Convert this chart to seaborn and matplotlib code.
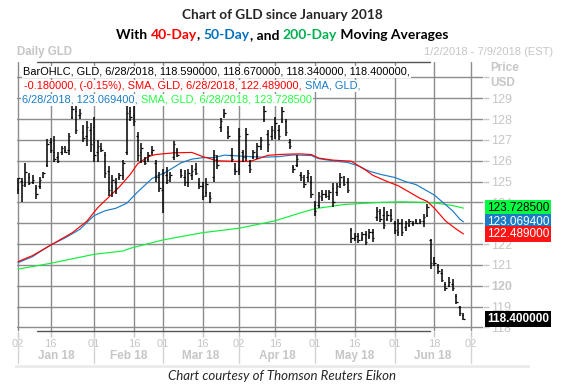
import pandas as pd
import seaborn as sns
import matplotlib.pyplot as plt
import matplotlib.transforms as mtransforms
from matplotlib.patches import Rectangle
from matplotlib.lines import Line2D

# Daily GLD bars, trading days 1/2/2018 .. 6/28/2018 (index 0..123)
opens = [124.66, 125.05, 124.90, 125.20, 125.00, 124.70, 124.80, 125.20, 125.80, 126.90,
         126.40, 126.20, 126.40, 126.50, 126.50, 128.10, 128.40, 128.20, 127.40, 127.20,
         127.50, 127.60, 126.40, 126.60, 126.30, 125.50, 124.80, 125.00, 125.20, 125.30,
         126.40, 128.40, 128.20, 127.20, 126.40, 126.00, 126.10, 126.40, 125.90, 125.20,
         124.60, 125.30, 125.20, 126.20, 126.50, 125.50, 125.20, 125.00, 125.30, 125.60,
         124.90, 124.80, 124.50, 124.30, 125.20, 126.10, 127.60, 128.20, 127.40, 126.30,
         125.60, 125.60, 126.40, 126.20, 125.80, 126.20, 126.30, 126.70, 128.00, 127.30,
         127.20, 127.40, 127.50, 127.90, 127.90, 126.90, 125.70, 125.80, 125.30, 125.10,
         125.20, 125.00, 123.90, 123.90, 124.20, 124.40, 124.30, 124.70, 124.50, 124.90,
         125.10, 125.00, 122.70, 122.30, 122.40, 122.30, 122.50, 122.40, 122.60, 123.30,
         123.50, 123.40, 123.20, 123.40, 123.00, 122.60, 123.00, 122.80, 122.90, 123.00,
         123.10, 123.00, 123.10, 123.40, 122.20, 121.20, 120.90, 120.60, 120.10, 120.00,
         120.10, 119.50, 119.00, 118.59]
highs = [125.18, 125.15, 125.87, 125.42, 125.30, 124.82, 125.23, 125.47, 127.03, 127.10,
         127.20, 126.40, 126.70, 126.70, 127.35, 128.65, 128.65, 128.50, 127.70, 127.90,
         127.80, 128.10, 127.00, 126.84, 126.44, 125.74, 125.30, 125.15, 125.42, 126.03,
         128.65, 128.60, 128.65, 127.40, 126.84, 126.20, 126.44, 126.70, 126.03, 125.47,
         125.60, 125.70, 125.47, 126.97, 126.60, 125.60, 125.55, 125.60, 125.80, 125.87,
         125.15, 124.98, 125.15, 124.50, 126.50, 126.27, 128.05, 128.50, 127.65, 126.60,
         125.87, 127.55, 126.50, 127.55, 126.03, 126.50, 126.84, 127.16, 128.70, 127.50,
         127.65, 128.10, 127.70, 128.60, 128.00, 127.06, 125.80, 126.30, 125.48, 125.30,
         125.57, 125.25, 124.05, 124.50, 124.60, 124.60, 124.60, 124.93, 124.93, 125.40,
         125.25, 125.17, 122.77, 122.53, 122.53, 122.60, 122.64, 122.72, 122.72, 123.76,
         123.68, 123.76, 123.60, 123.68, 123.12, 123.20, 123.20, 123.12, 123.20, 123.12,
         123.20, 123.20, 123.44, 123.92, 122.24, 121.36, 121.04, 120.80, 120.16, 120.40,
         120.32, 119.60, 119.04, 118.67]
lows = [124.39, 124.00, 124.74, 124.82, 124.87, 124.18, 124.66, 125.15, 125.70, 126.35,
        125.95, 125.87, 126.30, 126.35, 126.30, 128.00, 127.30, 128.00, 126.90, 126.70,
        126.40, 125.95, 125.95, 126.40, 125.15, 124.29, 124.26, 124.42, 125.06, 125.10,
        126.27, 127.90, 127.65, 126.00, 125.87, 125.80, 125.95, 126.27, 125.00, 124.50,
        123.50, 124.90, 125.00, 126.03, 126.20, 125.15, 124.80, 124.75, 125.06, 125.30,
        124.66, 124.10, 124.26, 123.95, 125.00, 125.60, 127.40, 128.05, 127.03, 125.95,
        125.30, 125.30, 125.95, 126.00, 125.40, 126.10, 126.10, 126.50, 127.85, 126.44,
        127.00, 127.05, 127.00, 127.80, 127.20, 126.58, 125.40, 125.70, 125.05, 124.70,
        125.00, 124.20, 123.33, 123.73, 124.05, 124.20, 124.13, 123.80, 124.30, 124.70,
        124.77, 124.45, 122.05, 122.13, 122.05, 122.13, 121.97, 122.24, 122.08, 123.12,
        123.04, 122.72, 123.12, 123.04, 122.48, 122.40, 122.40, 122.64, 122.80, 122.88,
        122.96, 122.96, 122.80, 123.28, 120.80, 120.96, 120.56, 120.16, 119.76, 119.92,
        119.76, 119.12, 118.56, 118.34]
closes = [125.15, 124.82, 125.46, 124.95, 125.10, 124.40, 125.10, 125.40, 126.80, 126.50,
          126.10, 126.00, 126.60, 126.40, 127.20, 128.50, 127.50, 128.30, 127.10, 127.60,
          126.80, 126.30, 126.70, 126.50, 125.40, 124.60, 125.10, 124.70, 125.30, 125.90,
          128.30, 128.10, 127.90, 126.30, 126.60, 125.90, 126.30, 126.50, 125.20, 124.70,
          125.40, 125.10, 125.30, 126.80, 126.30, 125.30, 125.00, 125.40, 125.50, 125.40,
          124.80, 124.30, 124.90, 124.20, 126.30, 125.80, 127.90, 128.30, 127.20, 126.10,
          125.50, 127.20, 126.20, 127.30, 125.60, 126.40, 126.70, 127.00, 128.40, 126.80,
          127.50, 127.80, 127.20, 128.40, 127.40, 126.70, 125.60, 126.10, 125.20, 124.90,
          125.40, 124.40, 123.60, 124.30, 124.40, 124.30, 124.50, 124.00, 124.80, 125.20,
          124.90, 124.60, 122.30, 122.40, 122.20, 122.50, 122.10, 122.60, 122.30, 123.60,
          123.20, 122.90, 123.40, 123.20, 122.70, 123.00, 122.60, 123.00, 123.10, 123.00,
          123.00, 123.10, 123.30, 123.80, 121.10, 121.10, 120.70, 120.30, 119.90, 120.20,
          119.90, 119.20, 118.70, 118.40]

# moving averages (trading-day index, value)
sma40_idx = [0, 4, 9, 12, 15, 19, 22, 25, 28, 31, 33, 36, 38, 43, 48, 51, 55, 60, 64, 66,
             69, 72, 75, 78, 81, 83, 87, 92, 96, 98, 102, 105, 108, 111, 113, 115, 118, 121, 123]
sma40_val = [121.16, 121.45, 121.95, 122.25, 122.55, 123.10, 123.75, 124.25, 124.75, 125.35,
             125.85, 126.20, 126.30, 126.38, 126.40, 126.20, 126.00, 125.97, 125.97, 126.08,
             126.26, 126.30, 126.32, 126.33, 126.30, 126.13, 126.03, 125.98, 125.55, 125.30,
             125.00, 124.80, 124.50, 124.20, 124.05, 123.72, 123.12, 122.72, 122.489]
sma50_idx = [0, 4, 9, 13, 17, 21, 24, 27, 30, 33, 37, 41, 45, 48, 51, 54, 57, 60, 64, 68,
             72, 76, 81, 83, 87, 91, 94, 97, 100, 104, 107, 110, 113, 115, 117, 120, 122, 123]
sma50_val = [121.11, 121.40, 121.96, 122.30, 122.70, 123.37, 123.60, 123.72, 123.96, 124.50,
             125.15, 125.47, 125.90, 126.08, 126.15, 126.15, 126.27, 126.24, 126.20, 126.17,
             126.20, 126.28, 126.25, 126.10, 126.00, 125.92, 125.75, 125.50, 125.35, 125.20,
             125.00, 124.85, 124.55, 124.35, 124.05, 123.60, 123.20, 123.0694]
sma200_idx = [0, 9, 21, 29, 31, 40, 51, 61, 71, 78, 82, 90, 97, 100, 106, 113, 117, 120, 123]
sma200_val = [120.80, 121.08, 121.51, 121.67, 121.80, 122.20, 122.55, 122.76, 123.12, 123.50,
              123.70, 123.90, 123.97, 124.00, 124.03, 124.00, 123.93, 123.85, 123.7285]

tick_idx = [0, 9, 21, 32, 40, 51, 61, 71, 82, 93, 104, 115, 125]
tick_labels = ["02", "16", "01", "16", "01", "16", "02", "16", "01", "16", "01", "18", "02"]
month_starts = [0, 21, 40, 61, 82, 104, 125]
month_labels = ["Jan 18", "Feb 18", "Mar 18", "Apr 18", "May 18", "Jun 18"]
price_ticks = list(range(118, 131))
price_labels = ["118", "119", "120", "121", "122", "", "124", "125", "126", "127", "128", "129", ""]

RED, BLUE, GREEN = "#ff0000", "#1b7cc6", "#14ee3c"
LIGHT = "#c6c6c6"
GRID = "#8c8c8c"

sns.set_theme(style="white")
plt.rcParams["font.family"] = ["Liberation Sans", "DejaVu Sans"]

W, H = 565, 389
fig = plt.figure(figsize=(W / 100, H / 100), dpi=100)
ax = fig.add_axes([17 / W, 1 - 331 / H, 466 / W, 269 / H])
ax.set_xlim(-0.3, 128.4)
ax.set_ylim(117.83, 130.74)

# bars
idx = list(range(len(closes)))
ax.vlines(idx, lows, highs, color="black", lw=1.1, zorder=3)
ax.hlines(opens, [i - 0.4 for i in idx], idx, color="black", lw=0.9, zorder=3)
ax.hlines(closes, idx, [i + 0.4 for i in idx], color="black", lw=0.9, zorder=3)

# moving averages
sma = pd.concat([
    pd.DataFrame({"idx": sma200_idx, "value": sma200_val, "series": "SMA200"}),
    pd.DataFrame({"idx": sma50_idx, "value": sma50_val, "series": "SMA50"}),
    pd.DataFrame({"idx": sma40_idx, "value": sma40_val, "series": "SMA40"}),
])
sns.lineplot(data=sma, x="idx", y="value", hue="series", estimator=None, legend=False,
             palette={"SMA40": RED, "SMA50": BLUE, "SMA200": GREEN}, lw=0.85, ax=ax, zorder=2)

# grid and axes
for s in ax.spines.values():
    s.set_visible(False)
ax.set_xticks(tick_idx)
ax.set_xticklabels(tick_labels)
ax.set_yticks(price_ticks)
ax.set_yticklabels(price_labels)
ax.yaxis.tick_right()
ax.grid(True, color=GRID, lw=1.0)
ax.tick_params(axis="y", colors=LIGHT, labelsize=9, length=4, width=1, pad=2, right=True)
ax.tick_params(axis="x", colors=LIGHT, labelsize=8, length=4, width=1, pad=2, bottom=True)
for lab in ax.get_yticklabels():
    if lab.get_text() == "120":
        lab.set_fontweight("bold")
ax.set_xlabel("")
ax.set_ylabel("")

# frame lines
fig.add_artist(Line2D([37 / W, 430 / W], [1 - 62 / H] * 2, color="#555555", lw=1.0))
fig.add_artist(Line2D([37 / W, 430 / W], [1 - 331 / H] * 2, color="#555555", lw=1.0))

# month row
bt = mtransforms.blended_transform_factory(ax.transData, fig.transFigure)
for m in month_starts:
    ax.plot([m, m], [1 - 336 / H, 1 - 363 / H], color="#d4d4d4", lw=1.0, transform=bt, clip_on=False)
for a, b, lab in zip(month_starts[:-1], month_starts[1:], month_labels):
    ax.text((a + b) / 2, 1 - 356 / H, lab, transform=bt, ha="center", va="center",
            color=LIGHT, fontsize=8.5, fontweight="bold")
fig.add_artist(Rectangle((15 / W, 1 - 368 / H), 515 / W, 3 / H, color="#ececec", lw=0))


def chain(x, y, parts, **kw):
    arts, prev = [], None
    for s, c in parts:
        if prev is None:
            t = ax.annotate(s, xy=(x, y), xycoords="figure pixels", color=c,
                            ha="left", va="bottom", annotation_clip=False, **kw)
        else:
            t = ax.annotate(s, xy=(1, 0), xycoords=prev, color=c,
                            ha="left", va="bottom", annotation_clip=False, **kw)
        arts.append(t)
        prev = t
    return arts


box = dict(facecolor="white", edgecolor="none", pad=0.6)
rows = [
    [("BarOHLC, GLD, 6/28/2018, 118.590000, 118.670000, 118.340000, 118.400000,", "black")],
    [("-0.180000, (-0.15%), SMA, GLD, 6/28/2018, 122.489000, ", RED), ("SMA, GLD,", BLUE)],
    [("6/28/2018, 123.069400, ", BLUE), ("SMA, GLD, 6/28/2018, 123.728500", "#22ff44")],
]
row_x = [23, 24, 22]
for k, parts in enumerate(rows):
    chain(row_x[k], H - 77 - 14 * k, parts, fontsize=7.9, bbox=box, zorder=5)

# value boxes on the right
rt = mtransforms.blended_transform_factory(fig.transFigure, ax.transData)
for val, txt, fc, tc, fw in [(123.7285, "123.728500", "#00ff40", "black", "normal"),
                             (123.0694, "123.069400", "#1a7cc4", "white", "normal"),
                             (122.489, "122.489000", "#ff1414", "white", "normal"),
                             (118.4, "118.400000", "black", "white", "bold")]:
    ax.text(487 / W, val, txt, transform=rt, ha="left", va="center", color=tc, fontsize=8.5,
            fontweight=fw, clip_on=False, zorder=6,
            bbox=dict(facecolor=fc, edgecolor="none", pad=1.2))

fig.text(490 / W, 1 - 68 / H, "Price", color=LIGHT, fontsize=8.5, fontweight="bold", va="center")
fig.text(490 / W, 1 - 83 / H, "USD", color=LIGHT, fontsize=8.5, fontweight="bold", va="center")
fig.text(17 / W, 1 - 52 / H, "Daily GLD", color=LIGHT, fontsize=8.3, fontweight="bold", va="center")
fig.text(553 / W, 1 - 52 / H, "1/2/2018 - 7/9/2018 (EST)", color=LIGHT, fontsize=8,
         ha="right", va="center")

# titles
fig.text(0.5, 1 - 15 / H, "Chart of GLD since January 2018", family="Lato", fontweight="bold",
         fontsize=9.8, ha="center", va="center")
title2 = chain(0, 0, [("With ", "black"), ("40-Day", RED), (", ", "black"), ("50-Day", "#0070c0"),
                      (", and ", "black"), ("200-Day", "#00b050"), (" Moving Averages", "black")],
               family="Lato", fontweight="bold", fontsize=10)
fig.text(0.5, 1 - 376 / H, "Chart courtesy of Thomson Reuters Eikon", family="Lato",
         style="italic", fontsize=9.5, ha="center", va="center")

fig.canvas.draw()
r = fig.canvas.get_renderer()
e0 = title2[0].get_window_extent(r)
e1 = title2[-1].get_window_extent(r)
width = e1.x1 - e0.x0
title2[0].set_position(((W - width) / 2, H - 35 - e0.height / 2))

fig.savefig("out.png", dpi=100)
